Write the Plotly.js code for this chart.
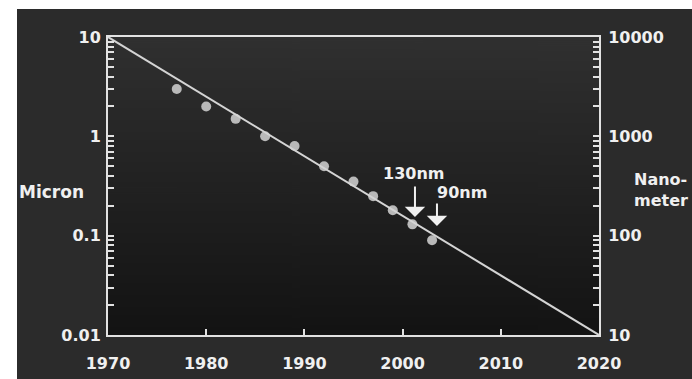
<!DOCTYPE html>
<html>
<head>
<meta charset="utf-8">
<script src="https://cdn.plot.ly/plotly-3.0.1.min.js"></script>
<style>html,body{margin:0;padding:0;background:#fff;}#chart{width:692px;height:379px;}</style>
</head>
<body>
<div id="chart"></div>
<script>
// Feature size (micron) by year of introduction
var years = [1977, 1980, 1983, 1986, 1989, 1992, 1995, 1997, 1999, 2001, 2003];
var micron = [3.0, 2.0, 1.5, 1.0, 0.8, 0.5, 0.35, 0.25, 0.18, 0.13, 0.09];
// Trend line end points (nanometer, drawn on the right-hand axis)
var trendYears = [1970, 2020];
var trendNanometer = [10000, 10];
// Axis ticks
var xTickVals = [1970, 1980, 1990, 2000, 2010, 2020];
var xTickText = ['1970', '1980', '1990', '2000', '2010', '2020'];
var yTickVals = [0.01, 0.1, 1, 10];
var yTickText = ['0.01', '0.1', '1', '10'];
var y2TickVals = [10, 100, 1000, 10000];
var y2TickText = ['10', '100', '1000', '10000'];
var mult = [2, 3, 4, 5, 6, 7, 8, 9];

function minorVals(decades) {
  var out = [];
  decades.forEach(function (d) { mult.forEach(function (m) { out.push(m * d); }); });
  return out;
}

// gradient image for plot background
var cv = document.createElement('canvas');
cv.width = 4; cv.height = 300;
var cx = cv.getContext('2d');
var g = cx.createLinearGradient(0, 0, 0, 300);
g.addColorStop(0, '#303030');
g.addColorStop(1, '#131313');
cx.fillStyle = g; cx.fillRect(0, 0, 4, 300);
var gradURL = cv.toDataURL();

var FONT = 'DejaVu Sans';
var WHITE = '#f0f0f0';
var FRAME = '#e2e2e2';

var traces = [
  {
    x: trendYears, y: trendNanometer, yaxis: 'y2', type: 'scatter', mode: 'lines',
    line: {color: '#d4d4d4', width: 2}, hoverinfo: 'skip', showlegend: false
  },
  {
    x: years, y: micron, type: 'scatter', mode: 'markers',
    marker: {color: '#b9b9b9', size: 10}, showlegend: false
  }
];

var L = 108, R = 599, T = 37, B = 335, W = 692, H = 379;
function px(p) { return (p - L) / (R - L); }
function py(p) { return (B - p) / (B - T); }

function minorFor(decades) {
  return {ticks: 'inside', ticklen: 6, tickwidth: 2, tickcolor: FRAME, showgrid: false,
          tickmode: 'array', tickvals: minorVals(decades)};
}

var layout = {
  width: W, height: H,
  margin: {l: L, r: W - R, t: T, b: H - B, pad: 0},
  paper_bgcolor: '#2b2b2b',
  plot_bgcolor: 'rgba(0,0,0,0)',
  showlegend: false,
  font: {family: FONT, color: WHITE, size: 16, weight: 'bold'},
  xaxis: {
    type: 'linear', range: [1970, 2020],
    tickmode: 'array', tickvals: xTickVals, ticktext: xTickText,
    ticks: 'inside', ticklen: 6, tickwidth: 2, tickcolor: FRAME,
    showline: true, linecolor: FRAME, linewidth: 2, mirror: true,
    showgrid: false, zeroline: false,
    tickfont: {family: FONT, size: 16, color: WHITE, weight: 'bold'},
    ticklabelstandoff: 13
  },
  yaxis: {
    type: 'log', range: [-2, 1],
    tickmode: 'array', tickvals: yTickVals, ticktext: yTickText,
    ticks: 'inside', ticklen: 6, tickwidth: 2, tickcolor: FRAME,
    minor: minorFor([0.01, 0.1, 1]),
    showline: true, linecolor: FRAME, linewidth: 2,
    showgrid: false, zeroline: false,
    tickfont: {family: FONT, size: 16, color: WHITE, weight: 'bold'},
    ticklabelstandoff: 2
  },
  yaxis2: {
    type: 'log', range: [1, 4], overlaying: 'y', side: 'right',
    tickmode: 'array', tickvals: y2TickVals, ticktext: y2TickText,
    ticks: 'inside', ticklen: 6, tickwidth: 2, tickcolor: FRAME,
    minor: minorFor([10, 100, 1000]),
    showline: true, linecolor: FRAME, linewidth: 2,
    showgrid: false, zeroline: false,
    tickfont: {family: FONT, size: 16, color: WHITE, weight: 'bold'},
    ticklabelstandoff: 4
  },
  images: [{
    source: gradURL, xref: 'paper', yref: 'paper', x: 0, y: 1,
    sizex: 1, sizey: 1, sizing: 'stretch', xanchor: 'left', yanchor: 'top', layer: 'below'
  }],
  shapes: [
    {type: 'rect', xref: 'paper', yref: 'paper', x0: px(0), x1: px(17), y0: py(H + 2), y1: py(-2),
     fillcolor: '#ffffff', line: {width: 0}, layer: 'above'},
    {type: 'rect', xref: 'paper', yref: 'paper', x0: px(0), x1: px(W + 2), y0: py(9), y1: py(-2),
     fillcolor: '#ffffff', line: {width: 0}, layer: 'above'}
  ],
  annotations: [
    {text: 'Micron', xref: 'paper', yref: 'paper', x: px(17), y: py(192), xanchor: 'left', yanchor: 'middle',
     showarrow: false, font: {family: FONT, size: 17, color: WHITE, weight: 'bold'}},
    {text: 'Nano-<br>meter', xref: 'paper', yref: 'paper', x: px(632), y: py(190), xanchor: 'left', yanchor: 'middle',
     align: 'left', showarrow: false, font: {family: FONT, size: 16, color: WHITE, weight: 'bold'}},
    {text: '130nm', xref: 'x', yref: 'y', x: 2001.1, y: Math.log10(0.418), xanchor: 'center', yanchor: 'middle',
     showarrow: false, font: {family: FONT, size: 16, color: WHITE, weight: 'bold'}},
    {text: '90nm', xref: 'x', yref: 'y', x: 2006.05, y: Math.log10(0.269), xanchor: 'center', yanchor: 'middle',
     showarrow: false, font: {family: FONT, size: 16, color: WHITE, weight: 'bold'}},
    {text: '', xref: 'x', yref: 'y', x: 2001.26, y: Math.log10(0.154), ax: 0, ay: -32,
     showarrow: true, arrowhead: 1, arrowsize: 1.7, arrowwidth: 2, arrowcolor: WHITE, standoff: 0},
    {text: '', xref: 'x', yref: 'y', x: 2003.5, y: Math.log10(0.125), ax: 0, ay: -24,
     showarrow: true, arrowhead: 1, arrowsize: 1.7, arrowwidth: 2, arrowcolor: WHITE, standoff: 0}
  ]
};

Plotly.newPlot('chart', traces, layout, {displayModeBar: false, staticPlot: true});
</script>
</body>
</html>
